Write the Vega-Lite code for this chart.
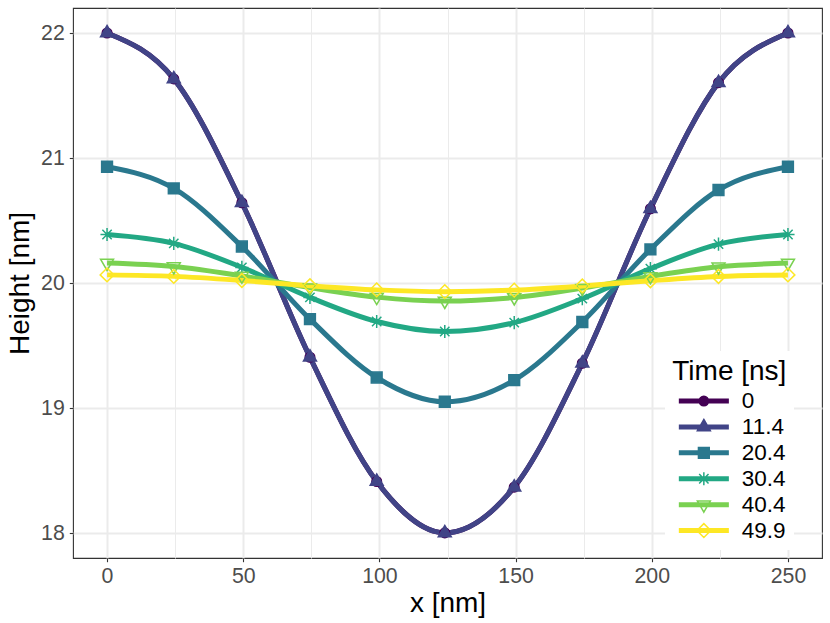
{
  "$schema": "https://vega.github.io/schema/vega-lite/v6.json",
  "width": 749,
  "height": 550,
  "autosize": {"type": "none"},
  "padding": {"left": 73, "top": 8, "right": 8, "bottom": 65},
  "background": "white",
  "data": {
    "values": [
      {"x": 0, "y": 22, "Time": "0"},
      {"x": 24.5, "y": 21.633, "Time": "0"},
      {"x": 49.5, "y": 20.642, "Time": "0"},
      {"x": 74.5, "y": 19.406, "Time": "0"},
      {"x": 99, "y": 18.412, "Time": "0"},
      {"x": 124, "y": 18.001, "Time": "0"},
      {"x": 149.5, "y": 18.367, "Time": "0"},
      {"x": 174.5, "y": 19.358, "Time": "0"},
      {"x": 199.5, "y": 20.594, "Time": "0"},
      {"x": 224.5, "y": 21.603, "Time": "0"},
      {"x": 250, "y": 22, "Time": "0"},
      {"x": 0, "y": 22, "Time": "11.4"},
      {"x": 24.5, "y": 21.633, "Time": "11.4"},
      {"x": 49.5, "y": 20.642, "Time": "11.4"},
      {"x": 74.5, "y": 19.406, "Time": "11.4"},
      {"x": 99, "y": 18.412, "Time": "11.4"},
      {"x": 124, "y": 18.001, "Time": "11.4"},
      {"x": 149.5, "y": 18.367, "Time": "11.4"},
      {"x": 174.5, "y": 19.358, "Time": "11.4"},
      {"x": 199.5, "y": 20.594, "Time": "11.4"},
      {"x": 224.5, "y": 21.603, "Time": "11.4"},
      {"x": 250, "y": 22, "Time": "11.4"},
      {"x": 0, "y": 20.93, "Time": "20.4"},
      {"x": 24.5, "y": 20.757, "Time": "20.4"},
      {"x": 49.5, "y": 20.292, "Time": "20.4"},
      {"x": 74.5, "y": 19.711, "Time": "20.4"},
      {"x": 99, "y": 19.244, "Time": "20.4"},
      {"x": 124, "y": 19.05, "Time": "20.4"},
      {"x": 149.5, "y": 19.223, "Time": "20.4"},
      {"x": 174.5, "y": 19.688, "Time": "20.4"},
      {"x": 199.5, "y": 20.269, "Time": "20.4"},
      {"x": 224.5, "y": 20.744, "Time": "20.4"},
      {"x": 250, "y": 20.93, "Time": "20.4"},
      {"x": 0, "y": 20.388, "Time": "30.4"},
      {"x": 24.5, "y": 20.317, "Time": "30.4"},
      {"x": 49.5, "y": 20.125, "Time": "30.4"},
      {"x": 74.5, "y": 19.885, "Time": "30.4"},
      {"x": 99, "y": 19.692, "Time": "30.4"},
      {"x": 124, "y": 19.612, "Time": "30.4"},
      {"x": 149.5, "y": 19.683, "Time": "30.4"},
      {"x": 174.5, "y": 19.875, "Time": "30.4"},
      {"x": 199.5, "y": 20.115, "Time": "30.4"},
      {"x": 224.5, "y": 20.311, "Time": "30.4"},
      {"x": 250, "y": 20.388, "Time": "30.4"},
      {"x": 0, "y": 20.16, "Time": "40.4"},
      {"x": 24.5, "y": 20.132, "Time": "40.4"},
      {"x": 49.5, "y": 20.057, "Time": "40.4"},
      {"x": 74.5, "y": 19.963, "Time": "40.4"},
      {"x": 99, "y": 19.887, "Time": "40.4"},
      {"x": 124, "y": 19.856, "Time": "40.4"},
      {"x": 149.5, "y": 19.884, "Time": "40.4"},
      {"x": 174.5, "y": 19.959, "Time": "40.4"},
      {"x": 199.5, "y": 20.053, "Time": "40.4"},
      {"x": 224.5, "y": 20.13, "Time": "40.4"},
      {"x": 250, "y": 20.16, "Time": "40.4"},
      {"x": 0, "y": 20.065, "Time": "49.9"},
      {"x": 24.5, "y": 20.053, "Time": "49.9"},
      {"x": 49.5, "y": 20.02, "Time": "49.9"},
      {"x": 74.5, "y": 19.978, "Time": "49.9"},
      {"x": 99, "y": 19.945, "Time": "49.9"},
      {"x": 124, "y": 19.931, "Time": "49.9"},
      {"x": 149.5, "y": 19.943, "Time": "49.9"},
      {"x": 174.5, "y": 19.976, "Time": "49.9"},
      {"x": 199.5, "y": 20.018, "Time": "49.9"},
      {"x": 224.5, "y": 20.052, "Time": "49.9"},
      {"x": 250, "y": 20.065, "Time": "49.9"}
    ]
  },
  "encoding": {
    "x": {
      "field": "x",
      "type": "quantitative",
      "title": "x [nm]",
      "scale": {"domain": [-12.5, 262.5], "nice": false, "zero": false},
      "axis": {
        "values": [0, 25, 50, 75, 100, 125, 150, 175, 200, 225, 250],
        "format": "d",
        "labelExpr": "datum.value % 50 === 0 ? datum.label : ''",
        "tickOpacity": {"condition": {"test": "datum.value % 50 !== 0", "value": 0}, "value": 1},
        "gridWidth": {"condition": {"test": "datum.value % 50 !== 0", "value": 1}, "value": 2},
        "labelPadding": 4,
        "titlePadding": 2
      }
    },
    "y": {
      "field": "y",
      "type": "quantitative",
      "title": "Height [nm]",
      "scale": {"domain": [17.8, 22.2], "nice": false, "zero": false},
      "axis": {
        "values": [18, 18.5, 19, 19.5, 20, 20.5, 21, 21.5, 22],
        "format": "d",
        "labelExpr": "datum.value % 1 === 0 ? datum.label : ''",
        "tickOpacity": {"condition": {"test": "datum.value % 1 !== 0", "value": 0}, "value": 1},
        "gridWidth": {"condition": {"test": "datum.value % 1 !== 0", "value": 1}, "value": 2},
        "labelPadding": 5,
        "titlePadding": 6
      }
    }
  },
  "layer": [
    {
      "transform": [{"filter": "false"}],
      "mark": {"type": "point", "filled": true, "size": 144, "strokeWidth": 1.5, "opacity": 1},
      "encoding": {
        "stroke": {
          "field": "Time", "type": "nominal", "title": "Time [ns]",
          "scale": {"domain": ["0", "11.4", "20.4", "30.4", "40.4", "49.9"], "range": ["#440154", "#414487", "#2A788E", "#22A884", "#7AD151", "#FDE725"]},
          "legend": {"orient": "none", "legendX": 592, "legendY": 343, "labelFontSize": 22.5, "titleFontSize": 28, "labelOffset": 26.7, "symbolOffset": 20.3, "rowPadding": 2.9, "titlePadding": 3.5}
        },
        "fill": {
          "field": "Time", "type": "nominal", "title": "Time [ns]",
          "scale": {"domain": ["0", "11.4", "20.4", "30.4", "40.4", "49.9"], "range": ["#440154", "#414487", "#2A788E", "#22A884", "transparent", "transparent"]},
          "legend": {"orient": "none", "legendX": 592, "legendY": 343, "labelFontSize": 22.5, "titleFontSize": 28, "labelOffset": 26.7, "symbolOffset": 20.3, "rowPadding": 2.9, "titlePadding": 3.5}
        },
        "shape": {
          "field": "Time", "type": "nominal", "title": "Time [ns]",
          "scale": {
            "domain": ["0", "11.4", "20.4", "30.4", "40.4", "49.9"],
            "range": [
              "M -4.17 -0.29 L 4.17 -0.29 M -4.17 -0.145 L 4.17 -0.145 M -4.17 0 L 4.17 0 M -4.17 0.145 L 4.17 0.145 M -4.17 0.29 L 4.17 0.29 M 0.8 0 A 0.8 0.8 0 1 1 -0.8 0 A 0.8 0.8 0 1 1 0.8 0 Z",
              "M -4.17 -0.29 L 4.17 -0.29 M -4.17 -0.145 L 4.17 -0.145 M -4.17 0 L 4.17 0 M -4.17 0.145 L 4.17 0.145 M -4.17 0.29 L 4.17 0.29 M 0 -1.25 L 1.083 0.625 L -1.083 0.625 Z",
              "M -4.17 -0.29 L 4.17 -0.29 M -4.17 -0.145 L 4.17 -0.145 M -4.17 0 L 4.17 0 M -4.17 0.145 L 4.17 0.145 M -4.17 0.29 L 4.17 0.29 M -0.9 -0.9 L 0.9 -0.9 L 0.9 0.9 L -0.9 0.9 Z",
              "M -4.17 -0.29 L 4.17 -0.29 M -4.17 -0.145 L 4.17 -0.145 M -4.17 0 L 4.17 0 M -4.17 0.145 L 4.17 0.145 M -4.17 0.29 L 4.17 0.29 M -1.1 0 L 1.1 0 M 0 -1.1 L 0 1.1 M -0.78 -0.78 L 0.78 0.78 M -0.78 0.78 L 0.78 -0.78",
              "M -4.17 -0.29 L 4.17 -0.29 M -4.17 -0.145 L 4.17 -0.145 M -4.17 0 L 4.17 0 M -4.17 0.145 L 4.17 0.145 M -4.17 0.29 L 4.17 0.29 M 0 1.25 L 1.083 -0.625 L -1.083 -0.625 Z",
              "M -4.17 -0.29 L 4.17 -0.29 M -4.17 -0.145 L 4.17 -0.145 M -4.17 0 L 4.17 0 M -4.17 0.145 L 4.17 0.145 M -4.17 0.29 L 4.17 0.29 M 0 -1.15 L 1.15 0 L 0 1.15 L -1.15 0 Z"
            ]
          },
          "legend": {"orient": "none", "legendX": 592, "legendY": 343, "labelFontSize": 22.5, "titleFontSize": 28, "labelOffset": 26.7, "symbolOffset": 20.3, "rowPadding": 2.9, "titlePadding": 3.5}
        }
      }
    },
    {
      "mark": {"type": "line", "strokeWidth": 5, "interpolate": "monotone"},
      "encoding": {
        "stroke": {
          "field": "Time", "type": "nominal", "title": "Time [ns]",
          "scale": {"domain": ["0", "11.4", "20.4", "30.4", "40.4", "49.9"], "range": ["#440154", "#414487", "#2A788E", "#22A884", "#7AD151", "#FDE725"]}
        }
      }
    },
    {
      "encoding": {
        "stroke": {
          "field": "Time", "type": "nominal", "title": "Time [ns]",
          "scale": {"domain": ["0", "11.4", "20.4", "30.4", "40.4", "49.9"], "range": ["#440154", "#414487", "#2A788E", "#22A884", "#7AD151", "#FDE725"]}
        },
        "fill": {
          "field": "Time", "type": "nominal", "title": "Time [ns]",
          "scale": {"domain": ["0", "11.4", "20.4", "30.4", "40.4", "49.9"], "range": ["#440154", "#414487", "#2A788E", "#22A884", "transparent", "transparent"]}
        }
      },
      "layer": [
        {"transform": [{"filter": "datum.Time === '0'"}], "mark": {"type": "point", "filled": true, "size": 144, "strokeWidth": 1.5, "opacity": 1, "shape": "M 0.8 0 A 0.8 0.8 0 1 1 -0.8 0 A 0.8 0.8 0 1 1 0.8 0 Z"}},
        {"transform": [{"filter": "datum.Time === '11.4'"}], "mark": {"type": "point", "filled": true, "size": 144, "strokeWidth": 1.5, "opacity": 1, "shape": "M 0 -1.25 L 1.083 0.625 L -1.083 0.625 Z"}},
        {"transform": [{"filter": "datum.Time === '20.4'"}], "mark": {"type": "point", "filled": true, "size": 144, "strokeWidth": 1.5, "opacity": 1, "shape": "M -0.9 -0.9 L 0.9 -0.9 L 0.9 0.9 L -0.9 0.9 Z"}},
        {"transform": [{"filter": "datum.Time === '30.4'"}], "mark": {"type": "point", "filled": true, "size": 144, "strokeWidth": 1.5, "opacity": 1, "shape": "M -1.1 0 L 1.1 0 M 0 -1.1 L 0 1.1 M -0.78 -0.78 L 0.78 0.78 M -0.78 0.78 L 0.78 -0.78"}},
        {"transform": [{"filter": "datum.Time === '40.4'"}], "mark": {"type": "point", "filled": true, "size": 144, "strokeWidth": 1.5, "opacity": 1, "shape": "M 0 1.25 L 1.083 -0.625 L -1.083 -0.625 Z"}},
        {"transform": [{"filter": "datum.Time === '49.9'"}], "mark": {"type": "point", "filled": true, "size": 144, "strokeWidth": 1.5, "opacity": 1, "shape": "M 0 -1.15 L 1.15 0 L 0 1.15 L -1.15 0 Z"}}
      ]
    }
  ],
  "config": {
    "font": "Liberation Sans",
    "view": {"stroke": "#333333", "strokeWidth": 1.1},
    "axis": {
      "domain": false,
      "grid": true,
      "gridColor": "#EBEBEB",
      "tickColor": "#333333",
      "tickSize": 3.7,
      "tickWidth": 1.1,
      "labelFont": "Liberation Sans",
      "labelFontSize": 21.3,
      "labelColor": "#4D4D4D",
      "titleFont": "Liberation Sans",
      "titleFontSize": 28,
      "titleFontWeight": "normal",
      "titleColor": "#000000"
    },
    "legend": {
      "padding": 7.3,
      "fillColor": "white",
      "titleFont": "Liberation Sans",
      "titleFontSize": 28,
      "titleFontWeight": "normal",
      "titleColor": "#000000",
      "labelFont": "Liberation Sans",
      "labelFontSize": 22.5,
      "labelColor": "#000000",
      "symbolSize": 144,
      "symbolStrokeWidth": 1.5,
      "symbolOpacity": 1
    }
  }
}
